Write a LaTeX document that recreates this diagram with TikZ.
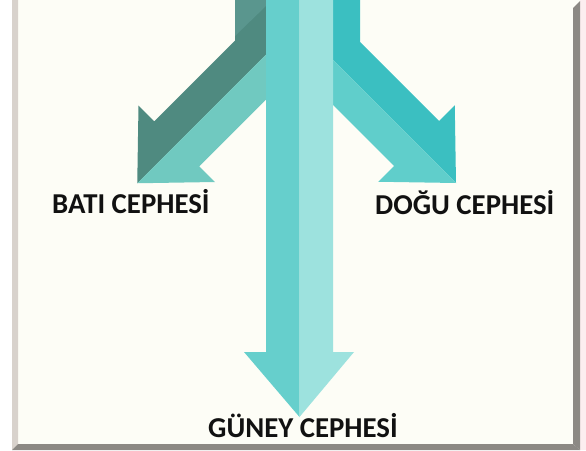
\documentclass[tikz,border=0pt]{standalone}
\usepackage{fontspec}
\setmainfont{Carlito}
\definecolor{panel}{HTML}{FDFDF6}
\definecolor{leftbevel}{HTML}{D8D2CC}
\definecolor{darkbevel}{HTML}{8C8984}
\definecolor{pinkedge}{HTML}{FCEEF0}
\definecolor{wdark}{HTML}{4F8A80}
\definecolor{wdarktop}{HTML}{5A968E}
\definecolor{wlight}{HTML}{70C9C0}
\definecolor{edark}{HTML}{3BBFC1}
\definecolor{elight}{HTML}{60CECB}
\definecolor{sleft}{HTML}{66CFCC}
\definecolor{sright}{HTML}{9DE2DE}
\definecolor{txt}{HTML}{111111}
\tikzset{
  lbl/.style={font=\fontsize{28.8}{31}\selectfont\bfseries, text=txt, inner sep=0pt, anchor=base west},
}
\begin{document}
\begin{tikzpicture}[x=1pt,y=-1pt]
\useasboundingbox (0,0) rectangle (586,450);
% frame
\fill[white] (0,0) rectangle (586,450);
\fill[pinkedge] (580,0) rectangle (586,450);
\fill[panel] (12,0) rectangle (580,450);
\fill[leftbevel] (12,0) -- (18,0) -- (18,444) -- (12,450) -- cycle;
\fill[darkbevel] (12,450) -- (18,444) -- (573,444) -- (580,450) -- cycle;
\fill[darkbevel] (573,8) -- (580,1) -- (580,450) -- (573,444) -- cycle;
% west arrow
\fill[wdark] (235,0) -- (235,40.5) -- (154.25,121.25) -- (138.5,105.5) -- (137.25,183.25) -- (266,54.5) -- (266,0) -- cycle;
\fill[wdarktop] (235,0) -- (266,0) -- (266,6) -- (235,36) -- cycle;
\fill[wlight] (137.25,183.25) -- (215,182) -- (199.25,166.25) -- (266,99.5) -- (266,54.5) -- cycle;
% east arrow
\fill[edark] (360,0) -- (360,42) -- (439,121) -- (454.75,105.25) -- (456,183) -- (333,60) -- (333,0) -- cycle;
\fill[elight] (456,183) -- (378.25,181.75) -- (394,166) -- (333,105) -- (333,60) -- cycle;
% south arrow
\fill[sleft] (266,0) -- (299.5,0) -- (299.5,417) -- (244,352) -- (266,352) -- cycle;
\fill[sright] (299.5,0) -- (333,0) -- (333,352) -- (354,352) -- (299.5,417) -- cycle;
% labels
\node[lbl] (bati) at (52,213) {BATI CEPHESİ};
\node[lbl] (dogu) at (375,214) {DOĞU CEPHESİ};
\node[lbl] (guney) at (208,437) {GÜNEY CEPHESİ};
\end{tikzpicture}
\end{document}
